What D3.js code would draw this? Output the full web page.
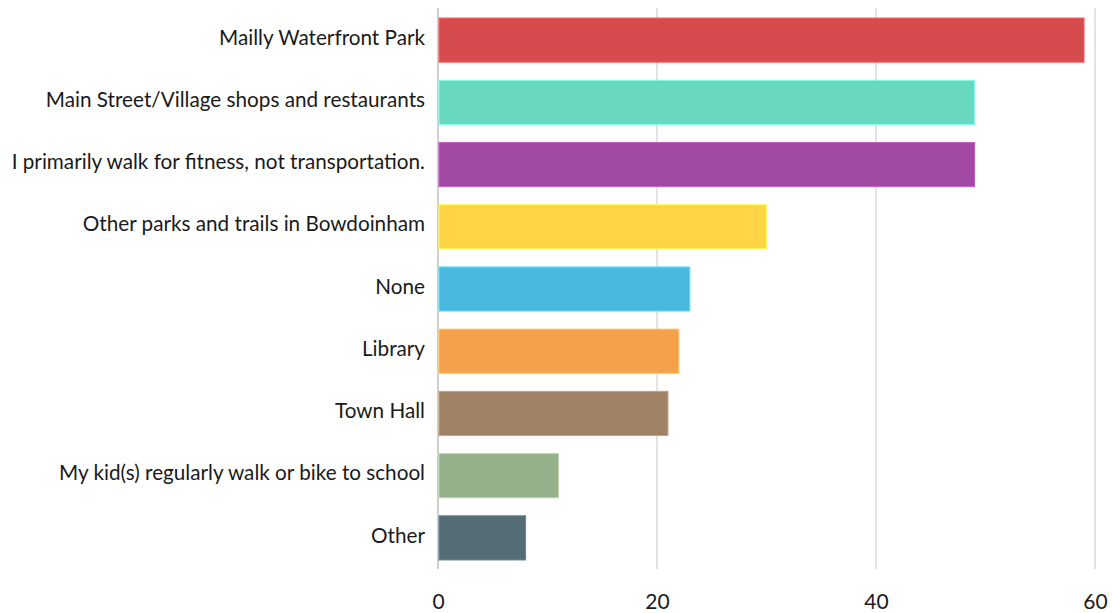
<!DOCTYPE html>
<html>
<head>
<meta charset="utf-8">
<script src="https://cdn.jsdelivr.net/npm/d3@7"></script>
<style>
    body { margin: 0; background: #fff; }
    svg text { font-family: Lato, "Open Sans", sans-serif; fill: #1a1a1a; }
</style>
</head>
<body>
<svg id="chart"></svg>
<script>

const categories = [
    "Mailly Waterfront Park",
    "Main Street/Village shops and restaurants",
    "I primarily walk for fitness, not transportation.",
    "Other parks and trails in Bowdoinham",
    "None",
    "Library",
    "Town Hall",
    "My kid(s) regularly walk or bike to school",
    "Other"
]
const values = [59, 49, 49, 30, 23, 22, 21, 11, 8]
const colors = ["#d64b4e", "#68d8bf", "#a149a3", "#ffd447", "#4ab9e0", "#f5a04b", "#a08266", "#95b08a", "#546c73"]
const xTicks = [0, 20, 40, 60]

const chartW = 1112
const chartH = 613
const plotLeft = 438
const plotRight = 1095
const plotTop = 9
const plotBottom = 569

const svg = d3.select('#chart')
    .attr('width', chartW)
    .attr('height', chartH)

const xScale = d3.scaleLinear()
    .domain([0, 60])
    .range([plotLeft, plotRight])

const yScale = d3.scaleBand()
    .domain(categories)
    .range([plotTop, plotBottom])
    .paddingInner(0.29)
    .paddingOuter(0.145)

// grid lines
svg.append('g')
    .selectAll('line')
    .data(xTicks)
    .join('line')
    .attr('x1', d => xScale(d))
    .attr('x2', d => xScale(d))
    .attr('y1', 8)
    .attr('y2', plotBottom)
    .attr('stroke', d => d === 0 ? '#cfcfcf' : '#e3e3e3')
    .attr('stroke-width', 2)

// bars
svg.append('g')
    .selectAll('rect')
    .data(values)
    .join('rect')
    .attr('x', xScale(0) + 1)
    .attr('y', (d, i) => yScale(categories[i]))
    .attr('width', d => xScale(d) - xScale(0) - 1)
    .attr('height', yScale.bandwidth())
    .attr('fill', (d, i) => colors[i])
    .attr('stroke', (d, i) => d3.color(colors[i]).brighter(0.6))
    .attr('stroke-width', 1)

// category labels
const yAxis = d3.axisLeft(yScale).tickSize(0).tickPadding(13)
svg.append('g')
    .attr('transform', `translate(${plotLeft}, -2)`)
    .call(yAxis)
    .call(g => g.select('.domain').remove())
    .selectAll('text')
    .style('font-size', '20.7px')
    .attr('fill', '#1a1a1a')

// x axis
const xAxis = d3.axisBottom(xScale).tickValues(xTicks).tickSize(0).tickPadding(0)
svg.append('g')
    .attr('transform', `translate(0, 609)`)
    .call(xAxis)
    .call(g => g.select('.domain').remove())
    .selectAll('text')
    .attr('dy', 0)
    .style('font-size', '21px')
    .attr('fill', '#1a1a1a')

</script>
</body>
</html>
